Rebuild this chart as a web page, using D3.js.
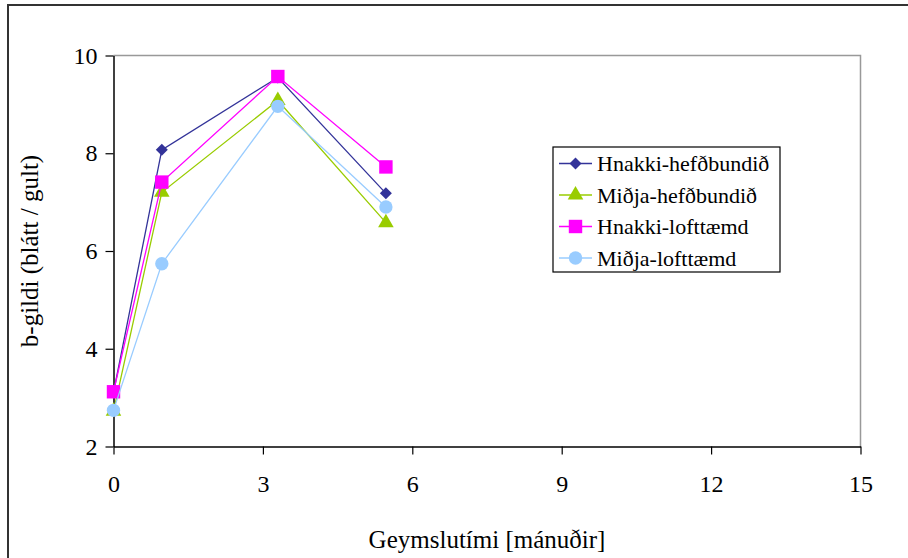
<!DOCTYPE html>
<html>
<head>
<meta charset="utf-8">
<script src="https://cdn.jsdelivr.net/npm/d3@7"></script>
<style>
  html, body { margin: 0; padding: 0; background: #fff; }
  svg { display: block; }
</style>
</head>
<body>
<svg id="chart" width="908" height="558"></svg>
<script>
// Storage time in months
const months = [0, 0.97, 3.3, 5.47];

// b-values per series
const hnakkiHefdbundid = [3.1, 8.07, 9.55, 7.18];
const midjaHefdbundid  = [2.72, 7.2, 9.08, 6.58];
const hnakkiLofttaemd  = [3.12, 7.41, 9.57, 7.72];
const midjaLofttaemd   = [2.74, 5.74, 8.96, 6.9];

const seriesNames  = ["Hnakki-hefðbundið", "Miðja-hefðbundið", "Hnakki-lofttæmd", "Miðja-lofttæmd"];
const seriesValues = [hnakkiHefdbundid, midjaHefdbundid, hnakkiLofttaemd, midjaLofttaemd];
const seriesColors = ["#333399", "#99CC00", "#FF00FF", "#99CCFF"];

const xTicks = [0, 3, 6, 9, 12, 15];
const yTicks = [2, 4, 6, 8, 10];

const xTitle = "Geymslutími [mánuðir]";
const yTitle = "b-gildi (blátt / gult)";

const FONT = "Liberation Serif";

// Marker shapes: diamond (square turned 45°), triangle, square, circle
const diamond = { draw(ctx, size) { const r = Math.sqrt(size / 2); ctx.moveTo(0, -r); ctx.lineTo(r, 0); ctx.lineTo(0, r); ctx.lineTo(-r, 0); ctx.closePath(); } };
const seriesSymbols = [diamond, d3.symbolTriangle, d3.symbolSquare, d3.symbolCircle];
const symbolSizes = [72, 105, 180, 140];

const svg = d3.select("#chart");

// Outer frame
svg.append("rect")
  .attr("x", 8).attr("y", 5)
  .attr("width", 910).attr("height", 560)
  .attr("fill", "none").attr("stroke", "#333").attr("stroke-width", 2);

const plot = { left: 113.5, right: 860.5, top: 55.5, bottom: 446.5 };

const x = d3.scaleLinear().domain([0, 15]).range([plot.left, plot.right]);
const y = d3.scaleLinear().domain([2, 10]).range([plot.bottom, plot.top]);

// Plot area top and right edges
svg.append("path")
  .attr("d", `M${plot.left},${plot.top}H${plot.right}V${plot.bottom}`)
  .attr("fill", "none").attr("stroke", "#999").attr("stroke-width", 1.5);

// Axes
const xAxis = svg.append("g")
  .attr("transform", `translate(0,${plot.bottom})`)
  .call(d3.axisBottom(x).tickValues(xTicks).tickSize(8).tickSizeOuter(0).tickPadding(20));
const yAxis = svg.append("g")
  .attr("transform", `translate(${plot.left},0)`)
  .call(d3.axisLeft(y).tickValues(yTicks).tickSize(8).tickSizeOuter(0).tickPadding(8));

[xAxis, yAxis].forEach(g => {
  g.selectAll("path.domain").attr("stroke", "#000").attr("stroke-width", 1.5);
  g.selectAll(".tick line").attr("stroke", "#000").attr("stroke-width", 1.2);
  g.selectAll(".tick text")
    .style("font-family", FONT).style("font-size", "24px").attr("fill", "#000");
});

// Axis titles
svg.append("text")
  .attr("x", (plot.left + plot.right) / 2).attr("y", 548)
  .attr("text-anchor", "middle")
  .style("font-family", FONT).style("font-size", "25px")
  .text(xTitle);

svg.append("text")
  .attr("transform", `translate(38,${(plot.top + plot.bottom) / 2}) rotate(-90)`)
  .attr("text-anchor", "middle")
  .style("font-family", FONT).style("font-size", "25px")
  .text(yTitle);

// Series lines and markers
const line = d3.line().x((d, i) => x(months[i])).y(d => y(d));

seriesValues.forEach((vals, s) => {
  const g = svg.append("g");
  g.append("path")
    .datum(vals)
    .attr("d", line)
    .attr("fill", "none")
    .attr("stroke", seriesColors[s])
    .attr("stroke-width", 1.3);
  g.selectAll("path.marker")
    .data(vals)
    .join("path")
    .attr("class", "marker")
    .attr("transform", (d, i) => `translate(${x(months[i])},${y(d)})`)
    .attr("d", d3.symbol().type(seriesSymbols[s]).size(symbolSizes[s]))
    .attr("fill", seriesColors[s]);
});

// Legend
const legend = svg.append("g").attr("transform", "translate(553,147)");
legend.append("rect")
  .attr("x", 0).attr("y", 0).attr("width", 227).attr("height", 125)
  .attr("fill", "#fff").attr("stroke", "#000").attr("stroke-width", 1.2);

seriesNames.forEach((name, s) => {
  const cy = 16.5 + s * 31.5;
  legend.append("line")
    .attr("x1", 6).attr("x2", 39).attr("y1", cy).attr("y2", cy)
    .attr("stroke", seriesColors[s]).attr("stroke-width", 1.3);
  legend.append("path")
    .attr("transform", `translate(22.5,${cy})`)
    .attr("d", d3.symbol().type(seriesSymbols[s]).size(symbolSizes[s]))
    .attr("fill", seriesColors[s]);
  legend.append("text")
    .attr("x", 44).attr("y", cy).attr("dy", "0.35em")
    .style("font-family", FONT).style("font-size", "22px")
    .text(name);
});
</script>
</body>
</html>
